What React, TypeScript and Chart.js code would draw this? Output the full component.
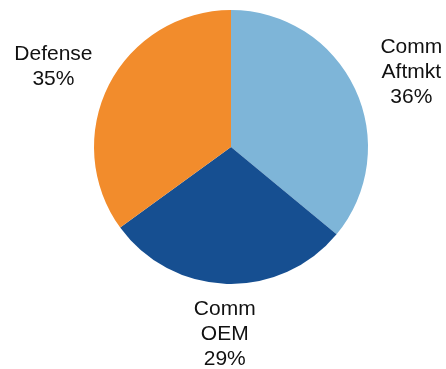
import React, { useEffect, useRef } from "react";
import { Chart, registerables } from "chart.js";

Chart.register(...registerables);

const categories = ["Comm\nAftmkt", "Comm\nOEM", "Defense"];
const shares = [36, 29, 35];
const colors = ["#7EB5D8", "#164F91", "#F28C2C"];

const labelPlugin = {
  id: "outerLabels",
  afterDatasetsDraw(chart: any) {
    const { ctx } = chart;
    const meta = chart.getDatasetMeta(0);
    const fontSize = 21;
    const lineH = 25;
    ctx.save();
    ctx.font = `${fontSize}px "Liberation Sans", Arial, sans-serif`;
    ctx.fillStyle = "#111111";
    ctx.textAlign = "center";
    ctx.textBaseline = "middle";
    meta.data.forEach((arc: any, i: number) => {
      const { x, y, startAngle, endAngle, outerRadius } = arc.getProps(
        ["x", "y", "startAngle", "endAngle", "outerRadius"],
        true
      );
      const mid = (startAngle + endAngle) / 2;
      const cx = x + Math.cos(mid) * outerRadius * 1.455;
      const cy = y + Math.sin(mid) * outerRadius * 1.345 + 3.5;
      const lines = [...categories[i].split("\n"), `${shares[i]}%`];
      const top = cy - ((lines.length - 1) * lineH) / 2;
      lines.forEach((ln, k) => ctx.fillText(ln, cx, top + k * lineH));
    });
    ctx.restore();
  },
};

export default function App() {
  const ref = useRef<HTMLCanvasElement>(null);
  useEffect(() => {
    if (!ref.current) return;
    const chart = new Chart(ref.current, {
      type: "pie",
      data: {
        labels: categories,
        datasets: [
          {
            data: shares,
            backgroundColor: colors,
            borderWidth: 0,
          },
        ],
      },
      options: {
        responsive: false,
        animation: false,
        layout: { padding: { left: 94, right: 78, top: 10, bottom: 85 } },
        plugins: {
          legend: { display: false },
          tooltip: { enabled: false },
        },
      },
      plugins: [labelPlugin],
    });
    return () => chart.destroy();
  }, []);
  return (
    <div style={{ position: "fixed", left: 0, top: 0, width: 446, height: 369, background: "#fff" }}>
      <canvas ref={ref} width={446} height={369} />
    </div>
  );
}
